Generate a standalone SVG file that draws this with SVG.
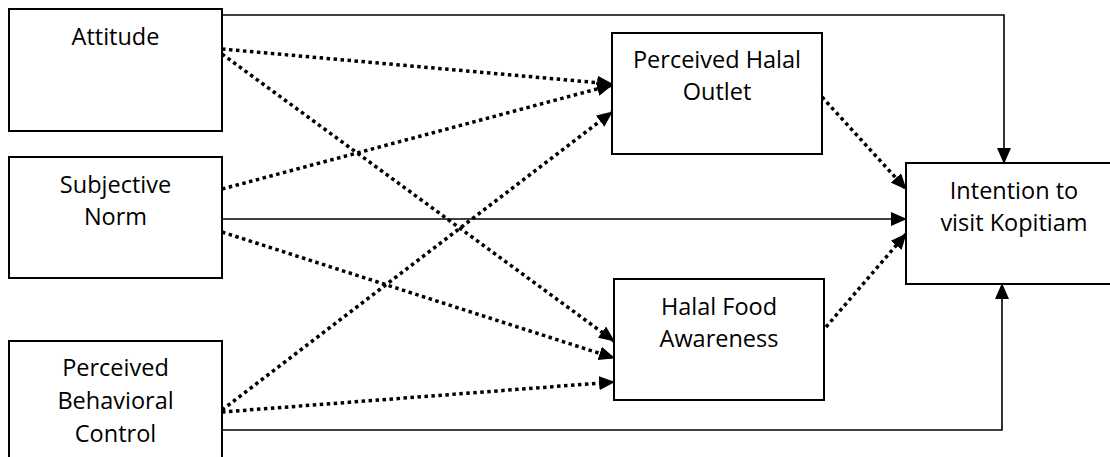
<svg xmlns="http://www.w3.org/2000/svg" width="1110" height="457" viewBox="0 0 1110 457">
<style>
.box{fill:#fff;stroke:#000;stroke-width:2}
.t{font-family:"Open Sans","Noto Sans",sans-serif;font-size:23.5px;fill:#000;text-anchor:middle}
.solid{fill:none;stroke:#000;stroke-width:1.6}
.dot{fill:none;stroke:#000;stroke-width:3.5;stroke-dasharray:3.5 3.5}
</style>
<defs>
<marker id="ah" markerUnits="userSpaceOnUse" markerWidth="16" markerHeight="14" viewBox="0 0 16 14" refX="15" refY="7" orient="auto">
<path d="M0,0 L16,7 L0,14 Z" fill="#000"/>
</marker>
</defs>
<rect width="1110" height="457" fill="#fff"/>
<g id="connectors">
<polyline class="solid" points="222,15 1004,15 1004,163" marker-end="url(#ah)"/>
<line class="solid" x1="222" y1="219" x2="906" y2="219" marker-end="url(#ah)"/>
<polyline class="solid" points="222,430 1002,430 1002,284" marker-end="url(#ah)"/>
<line class="dot" x1="222" y1="49" x2="612" y2="84" marker-end="url(#ah)"/>
<line class="dot" x1="222" y1="54" x2="614" y2="341" marker-end="url(#ah)"/>
<line class="dot" x1="222" y1="189" x2="612" y2="85" marker-end="url(#ah)"/>
<line class="dot" x1="222" y1="232" x2="614" y2="358" marker-end="url(#ah)"/>
<line class="dot" x1="222" y1="410" x2="612" y2="112" marker-end="url(#ah)"/>
<line class="dot" x1="222" y1="412" x2="614" y2="382" marker-end="url(#ah)"/>
<line class="dot" x1="822" y1="97" x2="906" y2="189" marker-end="url(#ah)"/>
<line class="dot" x1="826" y1="327" x2="906" y2="234" marker-end="url(#ah)"/>
</g>
<g id="attitude">
<rect class="box" x="9" y="9" width="213" height="122"/>
<text class="t" x="115.5" y="45">Attitude</text>
</g>
<g id="subjective-norm">
<rect class="box" x="9" y="157" width="213" height="121"/>
<text class="t" x="115.5" y="193">Subjective</text>
<text class="t" x="115.5" y="225">Norm</text>
</g>
<g id="pbc">
<rect class="box" x="9" y="341" width="213" height="130"/>
<text class="t" x="115.5" y="376">Perceived</text>
<text class="t" x="115.5" y="409">Behavioral</text>
<text class="t" x="115.5" y="442">Control</text>
</g>
<g id="perceived-halal-outlet">
<rect class="box" x="612" y="33" width="210" height="121"/>
<text class="t" x="717" y="68">Perceived Halal</text>
<text class="t" x="717" y="100">Outlet</text>
</g>
<g id="halal-food-awareness">
<rect class="box" x="614" y="279" width="210" height="121"/>
<text class="t" x="719" y="315">Halal Food</text>
<text class="t" x="719" y="347">Awareness</text>
</g>
<g id="intention">
<rect class="box" x="906" y="163" width="215" height="121"/>
<text class="t" x="1014" y="199">Intention to</text>
<text class="t" x="1014" y="231">visit Kopitiam</text>
</g>
</svg>
